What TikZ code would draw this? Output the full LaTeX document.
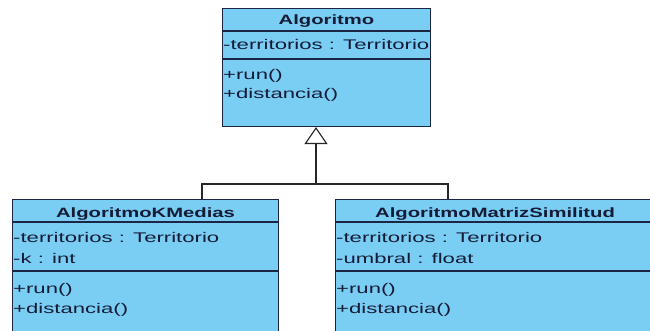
\documentclass[tikz,border=0pt]{standalone}
\usepackage{fontspec}
\usepackage{tikz}
\usetikzlibrary{calc,arrows.meta}
\newfontfamily\umlfont[FakeStretch=1.58]{Liberation Sans}
\newfontfamily\umlboldfont[FakeStretch=1.5]{Liberation Sans}
\definecolor{umlblue}{RGB}{122,205,243}
\definecolor{umlline}{RGB}{28,38,68}
\definecolor{umltext}{RGB}{22,28,55}

\begin{document}
\begin{tikzpicture}[x=1pt,y=-1pt]
\tikzstyle{classbox}=[draw=umlline,fill=umlblue,line width=1.1pt,anchor=north west,inner sep=0pt]
\tikzstyle{ctitle}=[inner sep=0pt,anchor=base,text=umltext,font=\umlboldfont\bfseries\fontsize{13.5}{16}\selectfont]
\tikzstyle{cmember}=[inner sep=0pt,anchor=base west,text=umltext,font=\umlfont\fontsize{14}{16}\selectfont]
\tikzstyle{sepline}=[draw=umlline,line width=1.1pt]
\tikzstyle{conn}=[draw=black!85,line width=1.1pt]

\clip (0,0) rectangle (650,331);

\node (alg) at (222,8) [classbox,minimum width=208pt,minimum height=118pt] {};
\node (alg_title) at ($(alg.north)+(0,17)$) [ctitle] {Algoritmo};
\draw [sepline] ($(alg.north west)+(0,23)$) -- ($(alg.north east)+(0,23)$);
\node (alg_a1) at ($(alg.north west)+(1,42)$) [cmember] {-territorios : Territorio};
\draw [sepline] ($(alg.north west)+(0,51)$) -- ($(alg.north east)+(0,51)$);
\node (alg_o1) at ($(alg.north west)+(1,72)$) [cmember] {+run()};
\node (alg_o2) at ($(alg.north west)+(1,91)$) [cmember] {+distancia()};

\node (kmed) at (12,199) [classbox,minimum width=266pt,minimum height=150pt] {};
\node (kmed_title) at ($(kmed.north)+(0,18)$) [ctitle] {AlgoritmoKMedias};
\draw [sepline] ($(kmed.north west)+(0,23)$) -- ($(kmed.north east)+(0,23)$);
\node (kmed_a1) at ($(kmed.north west)+(1,43)$) [cmember] {-territorios : Territorio};
\node (kmed_a2) at ($(kmed.north west)+(1,64)$) [cmember] {-k : int};
\draw [sepline] ($(kmed.north west)+(0,72)$) -- ($(kmed.north east)+(0,72)$);
\node (kmed_o1) at ($(kmed.north west)+(1,94)$) [cmember] {+run()};
\node (kmed_o2) at ($(kmed.north west)+(1,114)$) [cmember] {+distancia()};

\node (msim) at (335,199) [classbox,minimum width=319pt,minimum height=150pt] {};
\node (msim_title) at ($(msim.north)+(0,18)$) [ctitle] {AlgoritmoMatrizSimilitud};
\draw [sepline] ($(msim.north west)+(0,23)$) -- ($(msim.north east)+(0,23)$);
\node (msim_a1) at ($(msim.north west)+(1,43)$) [cmember] {-territorios : Territorio};
\node (msim_a2) at ($(msim.north west)+(1,64)$) [cmember] {-umbral : float};
\draw [sepline] ($(msim.north west)+(0,72)$) -- ($(msim.north east)+(0,72)$);
\node (msim_o1) at ($(msim.north west)+(1,94)$) [cmember] {+run()};
\node (msim_o2) at ($(msim.north west)+(1,114)$) [cmember] {+distancia()};

\coordinate (fork) at (316,184);
\draw [conn] ([xshift=190pt]kmed.north west) |- (fork);
\draw [conn] ([xshift=113pt]msim.north west) |- (fork);
\draw [conn,-{Triangle[open,length=17pt,width=23pt,fill=white]}] (fork) -- (fork |- alg.south);

\end{tikzpicture}
\end{document}
